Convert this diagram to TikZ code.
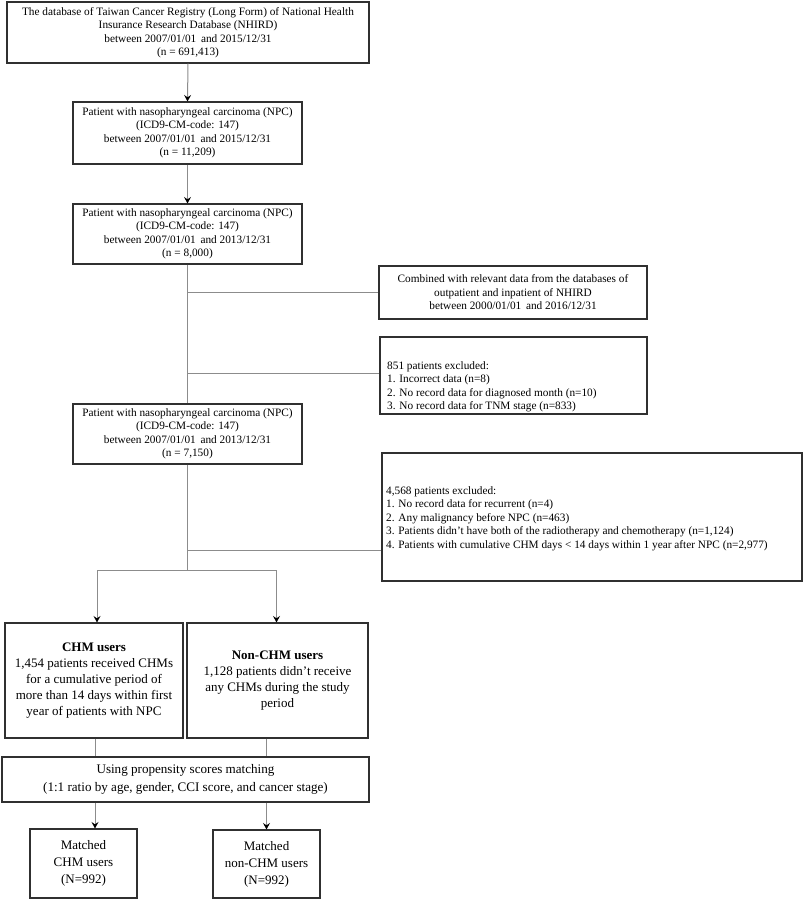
\documentclass[tikz,border=0pt]{standalone}
\usepackage{fontspec}
\setmainfont{Liberation Serif}
\usetikzlibrary{arrows.meta,calc}
\definecolor{boxc}{HTML}{303030}
\definecolor{linec}{HTML}{8C8C8C}
\begin{document}
\begin{tikzpicture}[x=1pt,y=-1pt,
  box/.style={draw=boxc, line width=1.1pt, fill=white, inner sep=0pt, align=center, font=\fontsize{11.3}{13.5}\selectfont},
  big/.style={box, font=\fontsize{13}{16}\selectfont},
  txt/.style={anchor=north west, inner sep=0pt, align=left, font=\fontsize{11.3}{13.5}\selectfont},
  conn/.style={draw=linec, line width=1pt},
  arr/.style={conn, -{Stealth[black, length=6.5pt, width=7pt, inset=2.4pt]}}]
\useasboundingbox (0,0) rectangle (803,901);
\fill[white] (0,0) rectangle (803,901);

\node[box, minimum width=362, minimum height=61] (b1) at (188,32.5)
  {The database of Taiwan Cancer Registry (Long Form) of National Health\\
   Insurance Research Database (NHIRD)\\ between 2007/01/01\, and 2015/12/31\\ (n = 691,413)};
\node[box, minimum width=229, minimum height=62] (b2) at (187.5,133)
  {Patient with nasopharyngeal carcinoma (NPC)\\ (ICD9-CM-code: 147)\\ between 2007/01/01\, and 2015/12/31\\ (n = 11,209)};
\node[box, minimum width=229, minimum height=60] (b3) at (187.5,234)
  {Patient with nasopharyngeal carcinoma (NPC)\\ (ICD9-CM-code: 147)\\ between 2007/01/01\, and 2013/12/31\\ (n = 8,000)};
\node[box, minimum width=268, minimum height=53] (comb) at (513,292.5)
  {Combined with relevant data from the databases of\\ outpatient and inpatient of NHIRD\\ between 2000/01/01\, and 2016/12/31};
\node[box, minimum width=267, minimum height=77] (exc1) at (513.5,375.5) {};
\node[txt] (exc1t) at (387,361)
  {851 patients excluded:\\ 1. Incorrect data (n=8)\\ 2. No record data for diagnosed month (n=10)\\ 3. No record data for TNM stage (n=833)};
\node[box, minimum width=229, minimum height=60] (b4) at (187.5,434)
  {Patient with nasopharyngeal carcinoma (NPC)\\ (ICD9-CM-code: 147)\\ between 2007/01/01\, and 2013/12/31\\ (n = 7,150)};
\node[box, minimum width=420, minimum height=128] (exc2) at (592,517) {};
\node[txt] (exc2t) at (386,486)
  {4,568 patients excluded:\\ 1. No record data for recurrent (n=4)\\ 2. Any malignancy before NPC (n=463)\\
   3. Patients didn’t have both of the radiotherapy and chemotherapy (n=1,124)\\
   4. Patients with cumulative CHM days < 14 days within 1 year after NPC (n=2,977)};
\node[big, minimum width=178, minimum height=115] (chm) at (94,680.5)
  {\textbf{CHM users}\\ 1,454 patients received CHMs\\ for a cumulative period of\\ more than 14 days within first\\ year of patients with NPC};
\node[big, minimum width=181, minimum height=115] (non) at (277.5,680.5)
  {\textbf{Non-CHM users}\\ 1,128 patients didn't receive\\ any CHMs during the study\\ period};
\node[box, minimum width=367, minimum height=45, font=\fontsize{13.1}{18}\selectfont] (psm) at (185.5,779.5)
  {Using propensity scores matching\\ (1:1 ratio by age, gender, CCI score, and cancer stage)};
\node[big, minimum width=107, minimum height=69, font=\fontsize{13}{17}\selectfont] (m1) at (83.5,863.5)
  {Matched\\ CHM users\\ (N=992)};
\node[big, minimum width=107, minimum height=68, font=\fontsize{13}{17}\selectfont] (m2) at (266.5,864)
  {Matched\\ non-CHM users\\ (N=992)};

% connectors
\draw[arr] (b1.south) -- (b2.north);
\draw[arr] (b2.south) -- (b3.north);
\draw[conn] (b3.south) -- (b4.north);
\coordinate (j1) at (b3.south |- comb.west);
\coordinate (j2) at ($(b3.south |- exc1.west)+(0,-2.5)$);
\draw[conn] (j1) -- (comb.west);
\draw[conn] (j2) -- (j2 -| exc1.west);
\coordinate (s) at ($(b4.south)+(0,106)$);
\coordinate (j3) at ($(b4.south)+(0,86)$);
\draw[conn] (b4.south) -- (s);
\draw[conn] (j3) -- (j3 -| exc2.west);
\coordinate (sl) at ($(chm.north |- s)+(3,0)$);
\coordinate (sr) at ($(non.north |- s)+(-1,0)$);
\draw[conn] (sl) -- (sr);
\draw[arr] (sl) -- (sl |- chm.north);
\draw[arr] (sr) -- (sr |- non.north);
\draw[conn] ([xshift=1pt]chm.south) -- ([xshift=1pt]chm.south |- psm.north);
\draw[conn] (m2.north |- non.south) -- (m2.north |- psm.north);
\draw[arr] ([xshift=1pt]chm.south |- psm.south) -- ([xshift=1pt]chm.south |- m1.north);
\draw[arr] (m2.north |- psm.south) -- (m2.north);
\end{tikzpicture}
\end{document}
